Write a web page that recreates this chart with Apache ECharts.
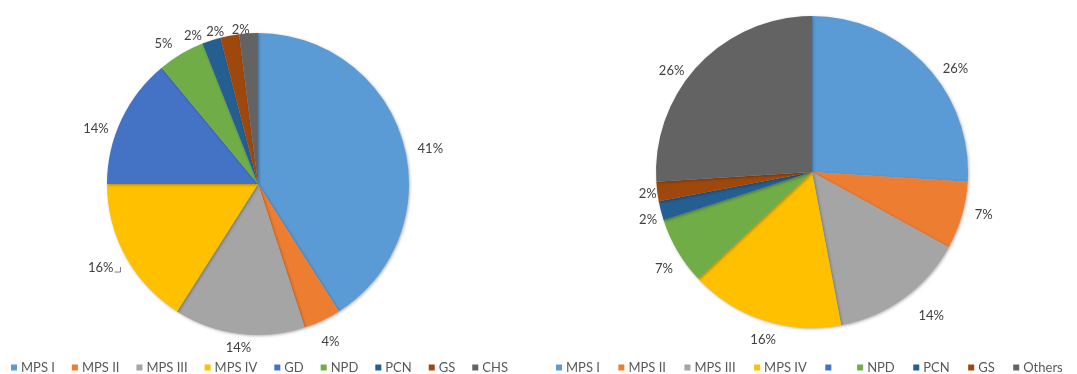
<!DOCTYPE html>
<html>
<head>
<meta charset="utf-8">
<title>Distribution by group</title>
<script src="https://cdn.jsdelivr.net/npm/echarts@6/dist/echarts.min.js"></script>
<style>
  html, body { margin: 0; padding: 0; background: #ffffff; }
  #chart { width: 1077px; height: 374px; }
</style>
</head>
<body>
<div id="chart"></div>
<script>
// Left pie: share per diagnostic group (%)
const leftCategories = ['MPS I', 'MPS II', 'MPS III', 'MPS IV', 'GD', 'NPD', 'PCN', 'GS', 'CHS'];
const leftValues = [41, 4, 14, 16, 14, 5, 2, 2, 2];

// Right pie: share per group (%); the unnamed fifth group has no share
const rightCategories = ['MPS I', 'MPS II', 'MPS III', 'MPS IV', ' ', 'NPD', 'PCN', 'GS', 'Others'];
const rightValues = [26, 7, 14, 16, 0, 7, 2, 2, 26];

const palette = ['#5B9BD5', '#ED7D31', '#A5A5A5', '#FFC000', '#4472C4', '#70AD47', '#255E91', '#9E480E', '#636363'];

const FONT = 'Lato, "Open Sans", sans-serif';

// Pie geometry plus small per-label nudges (px) that spread crowded labels.
const PIES = [
  {
    center: [258, 184], radius: 151, values: leftValues, leader: 3,
    nudge: [[9, 12], [2, 8], [1, 1], [-8, 2], [-8, 17], [-10, 3], [-14, 9], [-12, 9], [-7, 9]]
  },
  {
    center: [812, 172], radius: 156, values: rightValues, leader: -1,
    nudge: [[16, 16], [7, -5], [17, 3], [4, 5], [0, 0], [0, 9], [2, 5], [5, 0], [-13, 18]]
  }
];

// Places each label just outside the rim, its box touching a circle a few px
// beyond the slice, along the slice's mid angle (clockwise from 12 o'clock).
function outsideEnd(params) {
  const pie = PIES[params.seriesIndex];
  const vals = pie.values;
  const total = vals.reduce((a, b) => a + b, 0);
  let before = 0;
  for (let i = 0; i < params.dataIndex; i++) before += vals[i];
  const mid = (before + vals[params.dataIndex] / 2) / total * Math.PI * 2;
  const ux = Math.sin(mid), uy = -Math.cos(mid);
  const w = params.labelRect.width, h = params.labelRect.height;
  const gap = 5;
  const reach = pie.radius + gap + Math.abs(ux) * w / 2 + Math.abs(uy) * h / 2;
  const n = pie.nudge[params.dataIndex] || [0, 0];
  const cx = pie.center[0] + ux * reach + n[0];
  const cy = pie.center[1] + uy * reach + n[1];
  const out = { x: cx, y: cy, align: 'center', verticalAlign: 'middle' };
  if (params.dataIndex === pie.leader) {
    const right = cx + w / 2 + 1;
    out.labelLinePoints = [[right, cy + 4], [right + 6, cy + 4], [right + 6, cy - 1]];
  }
  return out;
}

function buildData(names, values, extra) {
  return names.map((n, i) => {
    const d = { name: n, value: values[i], itemStyle: { color: palette[i] } };
    if (extra && extra[i]) Object.assign(d, extra[i]);
    return d;
  });
}

const pieBase = {
  type: 'pie',
  startAngle: 90,
  clockwise: true,
  avoidLabelOverlap: false,
  animation: false,
  itemStyle: {
    borderWidth: 0,
    shadowBlur: 3,
    shadowOffsetX: 1,
    shadowOffsetY: 1,
    shadowColor: 'rgba(0,0,0,0.3)'
  },
  label: {
    show: true,
    position: 'outside',
    formatter: p => p.value + '%',
    color: '#404040',
    fontFamily: FONT,
    fontSize: 13
  },
  labelLine: { show: false, length: 5, length2: 0 },
  labelLayout: outsideEnd,
  emphasis: { disabled: true }
};

const legendBase = {
  icon: 'rect',
  itemWidth: 6,
  itemHeight: 6,
  top: 361,
  padding: 0,
  selectedMode: false,
  textStyle: { color: '#595959', fontFamily: FONT, fontSize: 13, padding: [0, 0, 0, -1] }
};

const chart = echarts.init(document.getElementById('chart'), null, { renderer: 'canvas' });

chart.setOption({
  backgroundColor: '#ffffff',
  legend: [
    Object.assign({}, legendBase, { left: 11, itemGap: 17, data: leftCategories }),
    Object.assign({}, legendBase, { left: 556, itemGap: 18.5, data: rightCategories })
  ],
  series: [
    Object.assign({}, pieBase, {
      name: 'left',
      center: PIES[0].center,
      radius: [0, PIES[0].radius],
      data: buildData(leftCategories, leftValues, {
        3: { labelLine: { show: true, lineStyle: { color: '#7f7f7f', width: 1 } } }
      })
    }),
    Object.assign({}, pieBase, {
      name: 'right',
      center: PIES[1].center,
      radius: [0, PIES[1].radius],
      data: buildData(rightCategories, rightValues, {
        4: { label: { show: false } }
      })
    })
  ]
});
</script>
</body>
</html>
